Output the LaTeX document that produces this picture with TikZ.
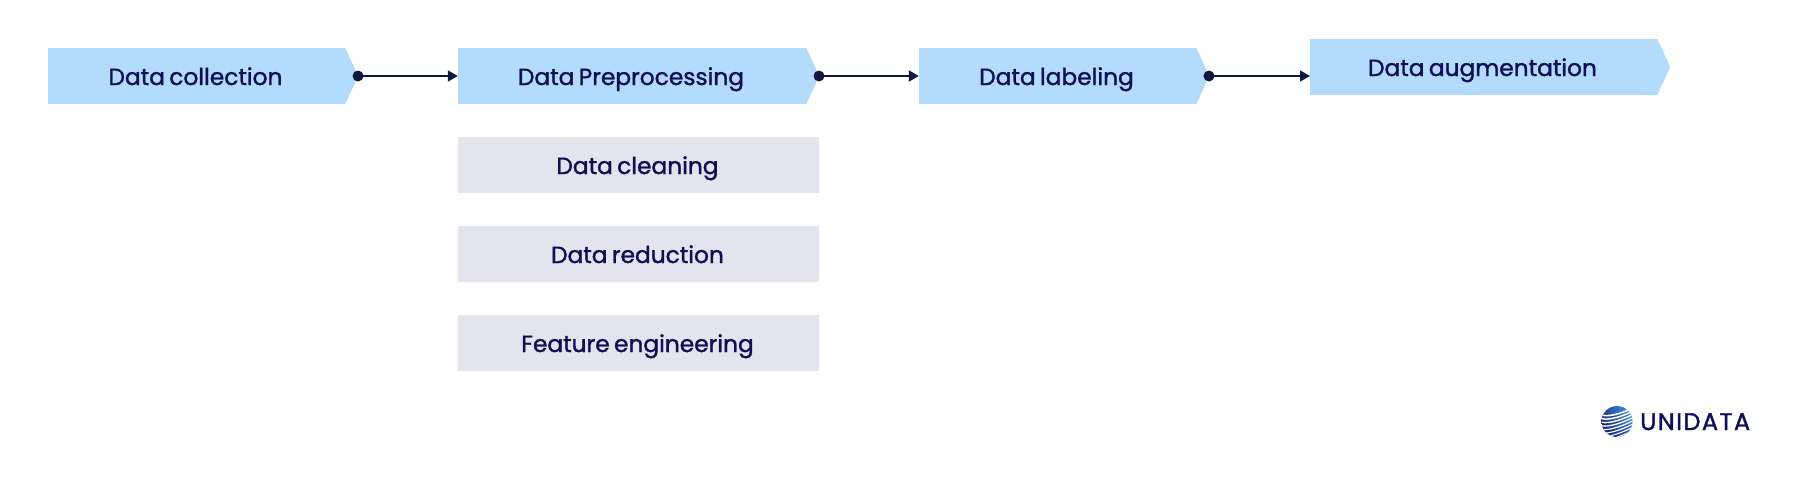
\documentclass[tikz,border=0pt]{standalone}
\usepackage{fontspec}
\setmainfont{Poppins}[WordSpace=0.7,UprightFeatures={RawFeature={embolden=1.4}}]
\usetikzlibrary{arrows.meta,calc}
\definecolor{stepblue}{HTML}{B3DCFC}
\definecolor{subgrey}{HTML}{E3E4ED}
\definecolor{inktext}{HTML}{0E0F55}
\definecolor{linkdark}{HTML}{12193F}
\definecolor{globeblue}{HTML}{3A8FDC}
\definecolor{globenavy}{HTML}{141A70}
\tikzset{
  x=1pt,y=-1pt,
  labeltext/.style={text=inktext,font=\fontsize{23.3}{28}\selectfont,text height=18pt,text depth=0pt,execute at end node={\kern2pt}},
  stepbody/.style={labeltext,fill=stepblue,inner sep=0pt,minimum height=56pt},
  subbox/.style={labeltext,fill=subgrey,inner sep=0pt,minimum width=361pt,minimum height=56pt},
  link/.style={draw=linkdark,line width=1.8pt,-{Triangle[length=10pt,width=11pt]}},
  linkdot/.style={circle,fill=linkdark,inner sep=0pt,minimum size=11pt},
}
\newcommand{\steptip}[2]{\fill[stepblue] (#1.north east) -- ($(#1.east)+(#2,0)$) -- (#1.south east) -- cycle;}
\begin{document}
\begin{tikzpicture}
\useasboundingbox (0,0) rectangle (1800,485);
\fill[white] (0,0) rectangle (1800,485);
% main pipeline steps
\node[stepbody,minimum width=297pt] (collect) at (196.5,76) {Data collection};
\node[stepbody,minimum width=348pt] (prep) at (632,76) {Data Preprocessing};
\node[stepbody,minimum width=277pt] (label) at (1057.5,76) {Data labeling};
\node[stepbody,minimum width=347pt] (augment) at (1483.5,67) {Data augmentation};
\steptip{collect}{13}
\steptip{prep}{13}
\steptip{label}{13}
\steptip{augment}{13}
% preprocessing sub-steps
\node[subbox] (clean) at (638.5,165) {Data cleaning};
\node[subbox] (reduce) at (638.5,254) {Data reduction};
\node[subbox] (feature) at (638.5,343) {Feature engineering};
% connectors
\node[linkdot] (d1) at (358,76) {};
\node[linkdot] (d2) at (819,76) {};
\node[linkdot] (d3) at (1209,76) {};
\coordinate (e3) at (1310,76);
\draw[link] (d1.center) -- (collect.east -| prep.west);
\draw[link] (d2.center) -- (prep.east -| label.west);
\draw[link] (d3.center) -- (e3);
% logo: shaded globe cut by white tilted bands
\begin{scope}
\clip (1617,421.5) circle (15.5);
\shade[left color=globenavy,right color=globeblue,shading angle=125] (1601,405) rectangle (1633,438);
\foreach \i in {-4,...,4}{
  \draw[white,line width={1.25pt-0.08pt*\i}] (1617,421.5) ++(-18,{\i*3.7+7}) .. controls +(12,{7-\i*0.6}) and +(26,{-6-\i*0.2}) .. ++(37,{-15-\i*0.4});
}
\end{scope}
\node[inner sep=0pt,anchor=west,text=inktext,text height=17pt,text depth=0pt,font=\fontsize{24}{28}\selectfont\addfontfeature{LetterSpace=6}] (brand) at (1640,421.5) {UNIDATA};
\end{tikzpicture}
\end{document}
